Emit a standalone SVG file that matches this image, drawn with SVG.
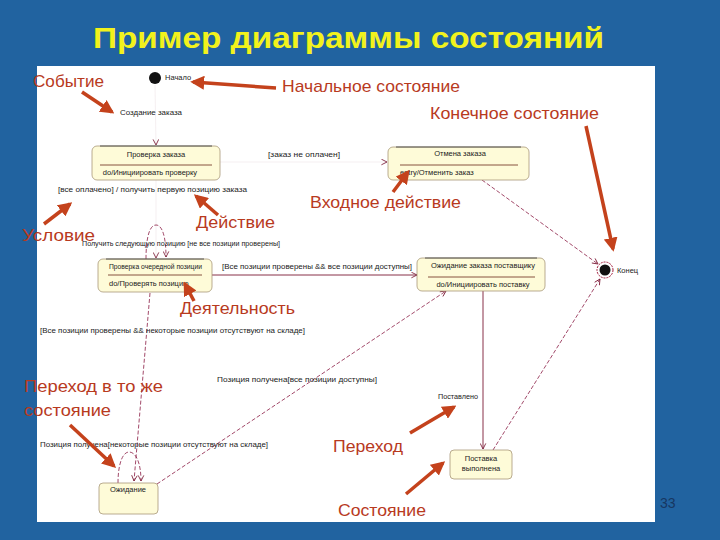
<svg xmlns="http://www.w3.org/2000/svg" width="720" height="540" viewBox="0 0 720 540">
<defs>
<style>
.bg{fill:#2163a0}
.panel{fill:#ffffff}
.title{font-family:"Liberation Sans",Arial,sans-serif;font-weight:bold;font-size:30px;fill:#f2f21c}
.ann{font-family:"Liberation Sans",Arial,sans-serif;font-size:17px;fill:#b83a1e}
.lbl{font-family:"Liberation Sans",Arial,sans-serif;font-size:7.5px;fill:#222}
.st{fill:#fefbd8;stroke:#a89878;stroke-width:0.8}
.sep{stroke:#6a2a1a;stroke-width:0.8}
.solid{fill:none;stroke:#7a1a34;stroke-width:0.9}
.dash{fill:none;stroke:#8a1c44;stroke-width:0.8;stroke-dasharray:4 2}
.faint{fill:none;stroke:#efe4e8;stroke-width:0.6}
.red{fill:none;stroke:#c4421c;stroke-width:3.5}
</style>
<marker id="open" viewBox="0 0 10 10" refX="9" refY="5" markerWidth="7" markerHeight="7" markerUnits="userSpaceOnUse" orient="auto">
<path d="M1,1 L9,5 L1,9" fill="none" stroke="#7a1a34" stroke-width="1.2"/>
</marker>
<marker id="rh" viewBox="0 0 10 10" refX="8" refY="5" markerWidth="4" markerHeight="4" orient="auto">
<path d="M0,0 L10,5 L0,10 z" fill="#c4421c"/>
</marker>
</defs>
<rect class="bg" x="0" y="0" width="720" height="540"/>
<rect class="panel" x="37" y="66" width="618" height="456"/>
<text class="title" x="93" y="48" textLength="511" lengthAdjust="spacingAndGlyphs">Пример диаграммы состояний</text>

<g id="connectors">
<line class="faint" x1="155" y1="85" x2="156" y2="145" marker-end="url(#open)"/>
<line class="faint" x1="220" y1="162" x2="387" y2="162" marker-end="url(#open)"/>
<line class="faint" x1="156" y1="180" x2="156" y2="258" marker-end="url(#open)"/>
<line class="dash" x1="482" y1="180" x2="598" y2="264" marker-end="url(#open)"/>
<path class="dash" d="M146,259 C146,236 150,225 156,225 C162,225 166,236 166,257" marker-end="url(#open)"/>
<line class="solid" x1="212" y1="275" x2="417" y2="275" marker-end="url(#open)"/>
<line class="dash" x1="150" y1="293" x2="134" y2="481" marker-end="url(#open)"/>
<path class="dash" d="M118,483 C118,463 123,452 129,452 C136,452 141,463 141,481" marker-end="url(#open)"/>
<line class="dash" x1="157" y1="484" x2="446" y2="291" marker-end="url(#open)"/>
<line class="solid" x1="483" y1="291" x2="483" y2="449" marker-end="url(#open)"/>
<line class="dash" x1="493" y1="450" x2="600" y2="279" marker-end="url(#open)"/>
</g>

<g id="initial">
<circle cx="155" cy="78" r="6" fill="#111"/>
<text class="lbl" x="165" y="80">Начало</text>
</g>
<g id="final">
<circle cx="605" cy="270" r="8" fill="#fff" stroke="#a01c3c" stroke-width="1" stroke-dasharray="2 1"/>
<circle cx="605" cy="270" r="5.5" fill="#111"/>
<text class="lbl" x="617" y="273">Конец</text>
</g>
<g id="check-order">
<rect class="st" x="92" y="146" width="128" height="34" rx="5"/>
<line x1="100" y1="146" x2="212" y2="146" stroke="#333" stroke-width="0.8"/>
<text class="lbl" x="156" y="157" text-anchor="middle">Проверка заказа</text>
<line class="sep" x1="100" y1="165" x2="212" y2="165"/>
<text class="lbl" x="150" y="175" text-anchor="middle">do/Инициировать проверку</text>
</g>
<g id="cancel-order">
<rect class="st" x="388" y="147" width="141" height="33" rx="5"/>
<line x1="396" y1="147" x2="521" y2="147" stroke="#333" stroke-width="0.8"/>
<text class="lbl" x="460" y="156" text-anchor="middle">Отмена заказа</text>
<line class="sep" x1="400" y1="165" x2="518" y2="165"/>
<text class="lbl" x="400" y="175">entry/Отменить заказ</text>
</g>
<g id="check-item">
<rect class="st" x="98" y="259" width="114" height="33" rx="5"/>
<line x1="106" y1="259" x2="204" y2="259" stroke="#333" stroke-width="0.8"/>
<text class="lbl" x="109" y="269" textLength="93" lengthAdjust="spacingAndGlyphs">Проверка очередной позиции</text>
<line class="sep" x1="108" y1="275" x2="202" y2="275"/>
<text class="lbl" x="109" y="286">do/Проверять позицию</text>
</g>
<g id="wait-supply">
<rect class="st" x="417" y="258" width="128" height="33" rx="5"/>
<line x1="425" y1="258" x2="537" y2="258" stroke="#333" stroke-width="0.8"/>
<text class="lbl" x="483" y="268" text-anchor="middle">Ожидание заказа поставщику</text>
<line class="sep" x1="428" y1="277" x2="535" y2="277"/>
<text class="lbl" x="483" y="287" text-anchor="middle">do/Инициировать поставку</text>
</g>
<g id="delivered">
<rect class="st" x="450" y="450" width="62" height="29" rx="4"/>
<text class="lbl" x="481" y="461" text-anchor="middle">Поставка</text>
<text class="lbl" x="481" y="471" text-anchor="middle">выполнена</text>
</g>
<g id="waiting">
<rect class="st" x="99" y="483" width="59" height="31" rx="4"/>
<text class="lbl" x="128" y="492" text-anchor="middle">Ожидание</text>
</g>

<g id="labels">
<text class="lbl" x="120" y="115" textLength="62" lengthAdjust="spacingAndGlyphs">Создание заказа</text>
<text class="lbl" x="268" y="157" textLength="72" lengthAdjust="spacingAndGlyphs">[заказ не оплачен]</text>
<text class="lbl" x="58" y="192" textLength="189" lengthAdjust="spacingAndGlyphs">[все оплачено] / получить первую позицию заказа</text>
<text class="lbl" x="82" y="246" textLength="198" lengthAdjust="spacingAndGlyphs">Получить следующую позицию [не все позиции проверены]</text>
<text class="lbl" x="222" y="269" textLength="190" lengthAdjust="spacingAndGlyphs">[Все позиции проверены &amp;&amp; все позиции доступны]</text>
<text class="lbl" x="40" y="333" textLength="265" lengthAdjust="spacingAndGlyphs">[Все позиции проверены &amp;&amp; некоторые позиции отсутствуют на складе]</text>
<text class="lbl" x="217" y="382" textLength="160" lengthAdjust="spacingAndGlyphs">Позиция получена[все позиции доступны]</text>
<text class="lbl" x="438" y="399" textLength="40" lengthAdjust="spacingAndGlyphs">Поставлено</text>
<text class="lbl" x="40" y="447" textLength="228" lengthAdjust="spacingAndGlyphs">Позиция получена[некоторые позиции отсутствуют на складе]</text>
</g>

<g id="annotations">
<text class="ann" x="33" y="87" textLength="71" lengthAdjust="spacingAndGlyphs">Событие</text>
<text class="ann" x="282" y="92" textLength="178" lengthAdjust="spacingAndGlyphs">Начальное состояние</text>
<text class="ann" x="430" y="119" textLength="169" lengthAdjust="spacingAndGlyphs">Конечное состояние</text>
<text class="ann" x="310" y="208" textLength="151" lengthAdjust="spacingAndGlyphs">Входное действие</text>
<text class="ann" x="22" y="241" textLength="73" lengthAdjust="spacingAndGlyphs">Условие</text>
<text class="ann" x="196" y="228" textLength="79" lengthAdjust="spacingAndGlyphs">Действие</text>
<text class="ann" x="180" y="314" textLength="115" lengthAdjust="spacingAndGlyphs">Деятельность</text>
<text class="ann" x="24" y="392" textLength="139" lengthAdjust="spacingAndGlyphs">Переход в то же</text>
<text class="ann" x="24" y="416" textLength="87" lengthAdjust="spacingAndGlyphs">состояние</text>
<text class="ann" x="333" y="452" textLength="70" lengthAdjust="spacingAndGlyphs">Переход</text>
<text class="ann" x="338" y="516" textLength="88" lengthAdjust="spacingAndGlyphs">Состояние</text>
<text x="660" y="508" font-family="Liberation Sans, Arial, sans-serif" font-size="14" fill="#173762">33</text>
<line class="red" x1="82" y1="92" x2="112" y2="112" marker-end="url(#rh)"/>
<line class="red" x1="276" y1="88" x2="193" y2="82" marker-end="url(#rh)"/>
<line class="red" x1="586" y1="126" x2="613" y2="249" marker-end="url(#rh)"/>
<line class="red" x1="393" y1="192" x2="408" y2="172" marker-end="url(#rh)"/>
<line class="red" x1="44" y1="224" x2="70" y2="204" marker-end="url(#rh)"/>
<line class="red" x1="218" y1="215" x2="196" y2="196" marker-end="url(#rh)"/>
<line class="red" x1="194" y1="301" x2="185" y2="284" marker-end="url(#rh)"/>
<line class="red" x1="70" y1="425" x2="114" y2="466" marker-end="url(#rh)"/>
<line class="red" x1="410" y1="433" x2="454" y2="407" marker-end="url(#rh)"/>
<line class="red" x1="406" y1="494" x2="443" y2="463" marker-end="url(#rh)"/>
</g>
</svg>
